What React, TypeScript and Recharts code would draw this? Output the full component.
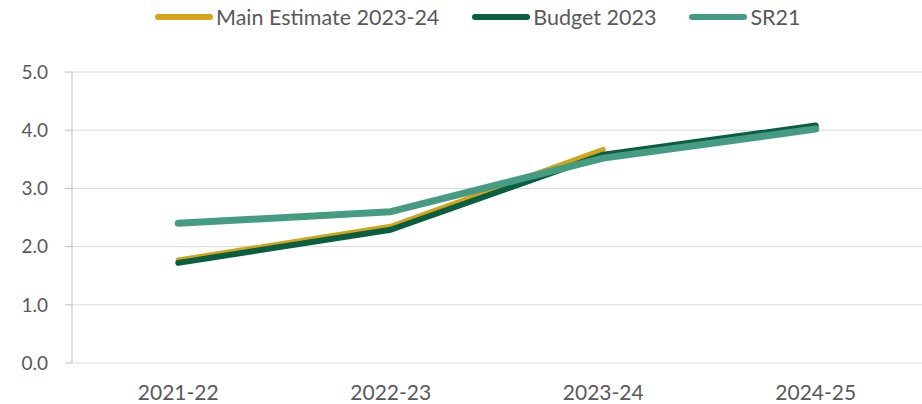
import { LineChart, Line, XAxis, YAxis, CartesianGrid, Legend } from 'recharts';

const categories = ['2021-22', '2022-23', '2023-24', '2024-25'];
const mainEstimate = [1.77, 2.35, 3.67, null];
const budget2023 = [1.72, 2.29, 3.58, 4.08];
const sr21 = [2.4, 2.6, 3.52, 4.02];

const yTicks = [0, 1, 2, 3, 4, 5];
const bandEdges = [0, 1, 2, 3, 4];
const bandCentres = [0.5, 1.5, 2.5, 3.5];

const seriesInfo = [
    { key: 'main', name: 'Main Estimate 2023-24', color: '#D4A418', width: 5 },
    { key: 'budget', name: 'Budget 2023', color: '#0A5E42', width: 6 },
    { key: 'sr21', name: 'SR21', color: '#459C83', width: 7 },
];

const chartData = categories.map((cat, i) => ({
    x: i + 0.5,
    cat,
    main: mainEstimate[i],
    budget: budget2023[i],
    sr21: sr21[i],
}));

const FONT = 'Lato, "Open Sans", sans-serif';
const TEXT = '#595959';
const AXIS = '#BFBFBF';

function LegendBox() {
    return (
        <div style={{ display: 'flex', alignItems: 'center', height: 34, paddingLeft: 155, gap: 33, fontFamily: FONT, fontSize: 21.5, color: TEXT }}>
            {seriesInfo.map((s) => (
                <div key={s.key} style={{ display: 'flex', alignItems: 'center' }}>
                    <span style={{ display: 'inline-block', width: 58, height: 6, borderRadius: 3, background: s.color, marginRight: 3 }} />
                    <span>{s.name}</span>
                </div>
            ))}
        </div>
    );
}

// tick mark only, at the band boundaries
function EdgeTick(props: any) {
    const { x, y } = props;
    return <line x1={x} y1={y} x2={x} y2={y + 9} stroke={AXIS} strokeWidth={1} />;
}

export default function App() {
    return (
        <div style={{ position: 'absolute', left: 0, top: 0, width: 922, height: 404, background: '#fff' }}>
            <LineChart width={922} height={404} data={chartData} margin={{ top: 38, right: 0, bottom: 0, left: 0 }}>
                <CartesianGrid horizontal vertical={false} stroke="#D9D9D9" />
                <Legend verticalAlign="top" content={() => <LegendBox />} wrapperStyle={{ top: 0, left: 0, width: 922 }} />
                <XAxis
                    xAxisId="edges"
                    dataKey="x"
                    type="number"
                    domain={[0, 4]}
                    ticks={bandEdges}
                    interval={0}
                    height={0}
                    tickSize={0}
                    tickLine={false}
                    tick={<EdgeTick />}
                    stroke={AXIS}
                />
                <XAxis
                    xAxisId="labels"
                    dataKey="x"
                    type="number"
                    domain={[0, 4]}
                    ticks={bandCentres}
                    interval={0}
                    height={41}
                    tickSize={0}
                    tickMargin={22}
                    axisLine={false}
                    tickFormatter={(v: number) => categories[Math.floor(v)]}
                    tick={{ fill: TEXT, fontSize: 21, fontFamily: FONT }}
                />
                <YAxis
                    domain={[0, 5]}
                    ticks={yTicks}
                    width={72}
                    tickSize={7}
                    tickMargin={17}
                    stroke={AXIS}
                    tickFormatter={(v: number) => v.toFixed(1)}
                    tick={{ fill: TEXT, fontSize: 19, fontFamily: FONT }}
                />
                {seriesInfo.map((s) => (
                    <Line
                        key={s.key}
                        xAxisId="edges"
                        type="linear"
                        dataKey={s.key}
                        name={s.name}
                        stroke={s.color}
                        strokeWidth={s.width}
                        strokeLinecap="round"
                        strokeLinejoin="round"
                        dot={false}
                        activeDot={false}
                        isAnimationActive={false}
                    />
                ))}
            </LineChart>
        </div>
    );
}
